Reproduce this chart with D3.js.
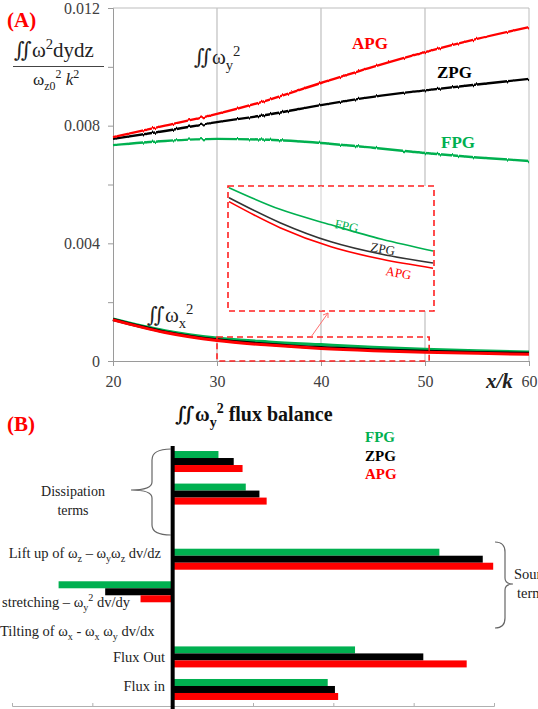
<!DOCTYPE html>
<html>
<head>
<meta charset="utf-8">
<script src="https://cdn.jsdelivr.net/npm/d3@7"></script>
<style>
  body { margin: 0; background: #fff; }
  svg { display: block; font-family: "Liberation Serif", "Times New Roman", "DejaVu Serif", serif; }
</style>
</head>
<body>
<div id="chart"></div>
<script>
// ---- Panel A data : integrated enstrophy vs x/k ----
var xPos = [20, 25, 30, 35, 40, 45, 50, 55, 60];
var wyAPG = [0.00761, 0.00800, 0.00840, 0.00888, 0.00945, 0.01000, 0.01050, 0.01095, 0.01135];
var wyZPG = [0.00755, 0.00782, 0.00812, 0.00838, 0.00870, 0.00898, 0.00920, 0.00940, 0.00959];
var wyFPG = [0.00734, 0.00748, 0.00755, 0.00752, 0.00741, 0.00725, 0.00707, 0.00692, 0.00680];
var wxAPG = [0.00140, 0.00097, 0.000696, 0.00054, 0.000425, 0.00035, 0.000297, 0.00026, 0.00023];
var wxZPG = [0.00141, 0.00099, 0.00072, 0.00057, 0.000455, 0.00038, 0.000328, 0.00029, 0.00026];
var wxFPG = [0.00143, 0.00103, 0.00078, 0.00065, 0.000557, 0.00047, 0.00040, 0.00035, 0.00031];
var xTicks = [20, 30, 40, 50, 60];
var yTicks = [0, 0.002, 0.004, 0.006, 0.008, 0.010, 0.012];
var yTickLabels = ["0", "", "0.004", "", "0.008", "", "0.012"];

// ---- Panel B data : flux balance terms ----
var terms = ["Dissipation 1", "Dissipation 2", "", "Lift up", "Stretching", "Tilting", "Flux Out", "Flux in"];
var fluxFPG = [0.57, 0.91, 0, 3.32, -1.42, 0, 2.27, 1.93];
var fluxZPG = [0.76, 1.08, 0, 3.86, -0.84, 0, 3.12, 2.02];
var fluxAPG = [0.87, 1.17, 0, 3.99, -0.40, 0, 3.66, 2.06];
var cases = ["FPG", "ZPG", "APG"];
var fluxTicks = [-2, -1, 0, 1, 2, 3, 4];

var colors = { FPG: "#00b050", ZPG: "#000000", APG: "#ff0000" };

var svg = d3.select("#chart").append("svg")
    .attr("width", 538)
    .attr("height", 709);

// wobbly line texture seen in the original curves
var defs = svg.append("defs");
var filt = defs.append("filter").attr("id", "wiggle")
    .attr("filterUnits", "userSpaceOnUse")
    .attr("x", 0).attr("y", 0).attr("width", 538).attr("height", 709);
filt.append("feTurbulence").attr("type", "fractalNoise")
    .attr("baseFrequency", "0.33 0.0005").attr("numOctaves", 1).attr("seed", 4).attr("result", "n");
filt.append("feDisplacementMap").attr("in", "SourceGraphic").attr("in2", "n")
    .attr("scale", 3).attr("xChannelSelector", "A").attr("yChannelSelector", "G");

// helper: text with sub/superscripts, parts = [[string, -1 sub | 0 | 1 sup], ...]
function rich(sel, parts, size) {
    var off = 0;
    parts.forEach(function(p) {
        var target = p[1] * (p[1] < 0 ? 0.3 : 0.4) * size;
        sel.append("tspan")
            .attr("dy", (-(target - off)).toFixed(1))
            .attr("font-size", p[1] ? size * 0.7 : size)
            .text(p[0]);
        off = target;
    });
}

// ================= Panel A =================
var x = d3.scaleLinear().domain([20, 60]).range([113, 529]);
var y = d3.scaleLinear().domain([0, 0.012]).range([361, 8]);
var gA = svg.append("g");

// frame and grid
gA.append("line").attr("x1", x(20)).attr("x2", x(60)).attr("y1", y(0.012)).attr("y2", y(0.012))
    .attr("stroke", "#bdbdbd");
gA.append("line").attr("x1", x(60)).attr("x2", x(60)).attr("y1", y(0.012)).attr("y2", y(0))
    .attr("stroke", "#bdbdbd");
gA.selectAll(".vgrid").data([30, 40, 50]).enter().append("line")
    .attr("x1", function(d) { return x(d); }).attr("x2", function(d) { return x(d); })
    .attr("y1", y(0.012)).attr("y2", y(0))
    .attr("stroke", "#c4c4c4").attr("stroke-width", 1.3);

var yAxis = gA.append("g").attr("transform", "translate(" + x(20) + ",0)")
    .call(d3.axisLeft(y).tickValues(yTicks).tickSize(5).tickPadding(8)
        .tickFormat(function(d, i) { return yTickLabels[i]; }));
var xAxis = gA.append("g").attr("transform", "translate(0," + y(0) + ")")
    .call(d3.axisBottom(x).tickValues(xTicks).tickSize(5).tickPadding(10).tickFormat(d3.format("d")));
[yAxis, xAxis].forEach(function(a) {
    a.attr("font-family", null).attr("font-size", null);
    a.select(".domain").attr("stroke", "#9a9a9a");
    a.selectAll(".tick line").attr("stroke", "#9a9a9a");
    a.selectAll(".tick text").attr("fill", "#404040")
        .style("font-size", "16px").style("font-family", "'Liberation Serif', serif");
});

var line = d3.line()
    .x(function(d, i) { return x(xPos[i]); })
    .y(function(d) { return y(d); })
    .curve(d3.curveMonotoneX);

[["FPG", wyFPG], ["ZPG", wyZPG], ["APG", wyAPG]].forEach(function(s) {
    gA.append("path").datum(s[1]).attr("d", line)
        .attr("fill", "none").attr("stroke", colors[s[0]]).attr("stroke-width", 2.4)
        .attr("filter", "url(#wiggle)");
});
[["FPG", wxFPG], ["ZPG", wxZPG], ["APG", wxAPG]].forEach(function(s) {
    gA.append("path").datum(s[1]).attr("d", line)
        .attr("fill", "none").attr("stroke", colors[s[0]]).attr("stroke-width", 3);
});

// zoom boxes
gA.append("rect").attr("x", x(30)).attr("y", 337).attr("width", x(50.4) - x(30)).attr("height", y(0) - 337)
    .attr("fill", "none").attr("stroke", "#ff2020").attr("stroke-width", 1.6).attr("stroke-dasharray", "6,4");
var inset = { x0: 228, x1: 434, y0: 186, y1: 311 };
gA.append("rect").attr("x", inset.x0).attr("y", inset.y0)
    .attr("width", inset.x1 - inset.x0).attr("height", inset.y1 - inset.y0)
    .attr("fill", "#fff").attr("stroke", "#ff2020").attr("stroke-width", 1.6).attr("stroke-dasharray", "6,4");
gA.append("line").attr("x1", x(40)).attr("x2", x(40)).attr("y1", inset.y0).attr("y2", inset.y1)
    .attr("stroke", "#d0d0d0");
gA.append("line").attr("x1", 311).attr("y1", 337).attr("x2", 328).attr("y2", 313)
    .attr("stroke", "#ff7070").attr("stroke-width", 1);
gA.append("path").attr("d", "M328,313 l-5,2 M328,313 l0,5").attr("stroke", "#ff7070").attr("fill", "none");

var xi = d3.scaleLinear().domain([30, 50]).range([inset.x0 + 1, inset.x1 - 1]);
var yi = d3.scaleLinear().domain([0.00004, 0.00079]).range([inset.y1, inset.y0]);
var lineI = d3.line()
    .defined(function(d, i) { return xPos[i] >= 30 && xPos[i] <= 50; })
    .x(function(d, i) { return xi(xPos[i]); })
    .y(function(d) { return yi(d); })
    .curve(d3.curveMonotoneX);
[["FPG", wxFPG], ["ZPG", wxZPG], ["APG", wxAPG]].forEach(function(s) {
    gA.append("path").datum(s[1]).attr("d", lineI)
        .attr("fill", "none").attr("stroke", s[0] == "ZPG" ? "#333" : colors[s[0]]).attr("stroke-width", 1.6);
});
[["FPG", 334, 228, 12], ["ZPG", 370, 251, 10], ["APG", 385, 275, 10]].forEach(function(t) {
    gA.append("text").attr("transform", "translate(" + t[1] + "," + t[2] + ") rotate(" + t[3] + ")")
        .attr("font-size", 13).attr("fill", t[0] == "ZPG" ? "#222" : colors[t[0]]).text(t[0]);
});

// labels panel A
svg.append("text").attr("x", 7).attr("y", 27).attr("fill", "#ff0000").attr("font-weight", "bold")
    .attr("font-size", 21).text("(A)");
rich(svg.append("text").attr("x", 14).attr("y", 57).attr("fill", "#222"),
    [["\u222C\u03C9", 0], ["2", 1], ["dydz", 0]], 21);
svg.append("line").attr("x1", 13).attr("x2", 104).attr("y1", 66.5).attr("y2", 66.5).attr("stroke", "#444");
var den = svg.append("text").attr("x", 33).attr("y", 85).attr("fill", "#222");
rich(den, [["\u03C9", 0], ["z0", -1], ["2", 1], [" ", 0]], 17);
den.append("tspan").attr("dy", "0").attr("font-style", "italic").attr("font-size", 17).text("k");
den.append("tspan").attr("dy", "-7").attr("font-size", 12).text("2");
rich(svg.append("text").attr("x", 194).attr("y", 64).attr("fill", "#222"),
    [["\u222C\u03C9", 0], ["y", -1], ["2", 1]], 21);
rich(svg.append("text").attr("x", 147).attr("y", 322).attr("fill", "#222"),
    [["\u222C\u03C9", 0], ["x", -1], ["2", 1]], 21);
[["APG", 352, 49], ["ZPG", 437, 78], ["FPG", 441, 148]].forEach(function(t) {
    svg.append("text").attr("x", t[1]).attr("y", t[2]).attr("fill", colors[t[0]])
        .attr("font-weight", "bold").attr("font-size", 17).text(t[0]);
});
svg.append("text").attr("x", 486).attr("y", 388).attr("font-weight", "bold").attr("font-style", "italic")
    .attr("font-size", 21).attr("fill", "#222").text("x/k");

// ================= Panel B =================
var xB = d3.scaleLinear().domain([-2, 4]).range([12, 494]);
var yB = d3.scaleBand().domain(terms).range([446, 705]).paddingInner(0.355).paddingOuter(0.154);
var yC = d3.scaleBand().domain(cases).range([0, yB.bandwidth()]);
var gB = svg.append("g");

var axB = gB.append("g").attr("transform", "translate(0,706)")
    .call(d3.axisBottom(xB).tickValues(fluxTicks).tickSize(-3).tickFormat(""));
axB.select(".domain").attr("stroke", "#b0b0b0");
axB.selectAll(".tick line").attr("stroke", "#b0b0b0");

var rows = terms.map(function(t, i) {
    return { term: t, FPG: fluxFPG[i], ZPG: fluxZPG[i], APG: fluxAPG[i] };
});
var grp = gB.selectAll(".row").data(rows).enter().append("g")
    .attr("transform", function(d) { return "translate(0," + yB(d.term) + ")"; });
grp.selectAll("rect")
    .data(function(d) { return cases.map(function(c) { return { c: c, v: d[c] }; }); })
    .enter().append("rect")
    .attr("x", function(d) { return xB(Math.min(0, d.v)); })
    .attr("y", function(d) { return yC(d.c); })
    .attr("width", function(d) { return Math.abs(xB(d.v) - xB(0)); })
    .attr("height", yC.bandwidth())
    .attr("fill", function(d) { return colors[d.c]; });

gB.append("line").attr("x1", xB(0)).attr("x2", xB(0)).attr("y1", 446).attr("y2", 709)
    .attr("stroke", "#000").attr("stroke-width", 4);

svg.append("text").attr("x", 7).attr("y", 431).attr("fill", "#ff0000").attr("font-weight", "bold")
    .attr("font-size", 21).text("(B)");
rich(svg.append("text").attr("x", 175).attr("y", 421).attr("font-weight", "bold").attr("fill", "#111"),
    [["\u222C\u03C9", 0], ["y", -1], ["2", 1], [" flux balance", 0]], 20);
cases.forEach(function(c, i) {
    svg.append("text").attr("x", 365).attr("y", 442 + i * 18.5).attr("fill", colors[c])
        .attr("font-weight", "bold").attr("font-size", 15).text(c);
});

// category labels
var lab = svg.append("g").attr("fill", "#222").attr("font-size", 14);
lab.append("text").attr("x", 73).attr("y", 496).attr("text-anchor", "middle").text("Dissipation");
lab.append("text").attr("x", 73).attr("y", 515).attr("text-anchor", "middle").text("terms");
rich(lab.append("text").attr("x", 161).attr("y", 558).attr("text-anchor", "end"),
    [["Lift up of \u03C9", 0], ["z", -1], [" \u2013 \u03C9", 0], ["y", -1], ["\u03C9", 0], ["z", -1], [" dv/dz", 0]], 14.5);
rich(lab.append("text").attr("x", 2).attr("y", 607),
    [["stretching \u2013 \u03C9", 0], ["y", -1], ["2", 1], [" dv/dy", 0]], 14.5);
rich(lab.append("text").attr("x", 0).attr("y", 636),
    [["Tilting of \u03C9", 0], ["x", -1], [" - \u03C9", 0], ["x", -1], [" \u03C9", 0], ["y", -1], [" dv/dx", 0]], 14.5);
lab.append("text").attr("x", 165).attr("y", 662).attr("text-anchor", "end").attr("font-size", 14.5).text("Flux Out");
lab.append("text").attr("x", 165).attr("y", 691).attr("text-anchor", "end").attr("font-size", 14.5).text("Flux in");
lab.append("text").attr("x", 514).attr("y", 579).attr("font-size", 14.5).text("Source");
lab.append("text").attr("x", 517).attr("y", 598).attr("font-size", 14.5).text("terms");

// braces
svg.append("path")
    .attr("d", "M171,449 Q152,449 152,460 L152,482 Q152,490 131,490 Q152,490 152,498 L152,525 Q152,535 171,535")
    .attr("fill", "none").attr("stroke", "#666").attr("stroke-width", 1.2);
svg.append("path")
    .attr("d", "M495,542 Q505,542 505,552 L505,578 Q505,584 513,584 Q505,584 505,590 L505,618 Q505,628 495,628")
    .attr("fill", "none").attr("stroke", "#666").attr("stroke-width", 1.2);
</script>
</body>
</html>
